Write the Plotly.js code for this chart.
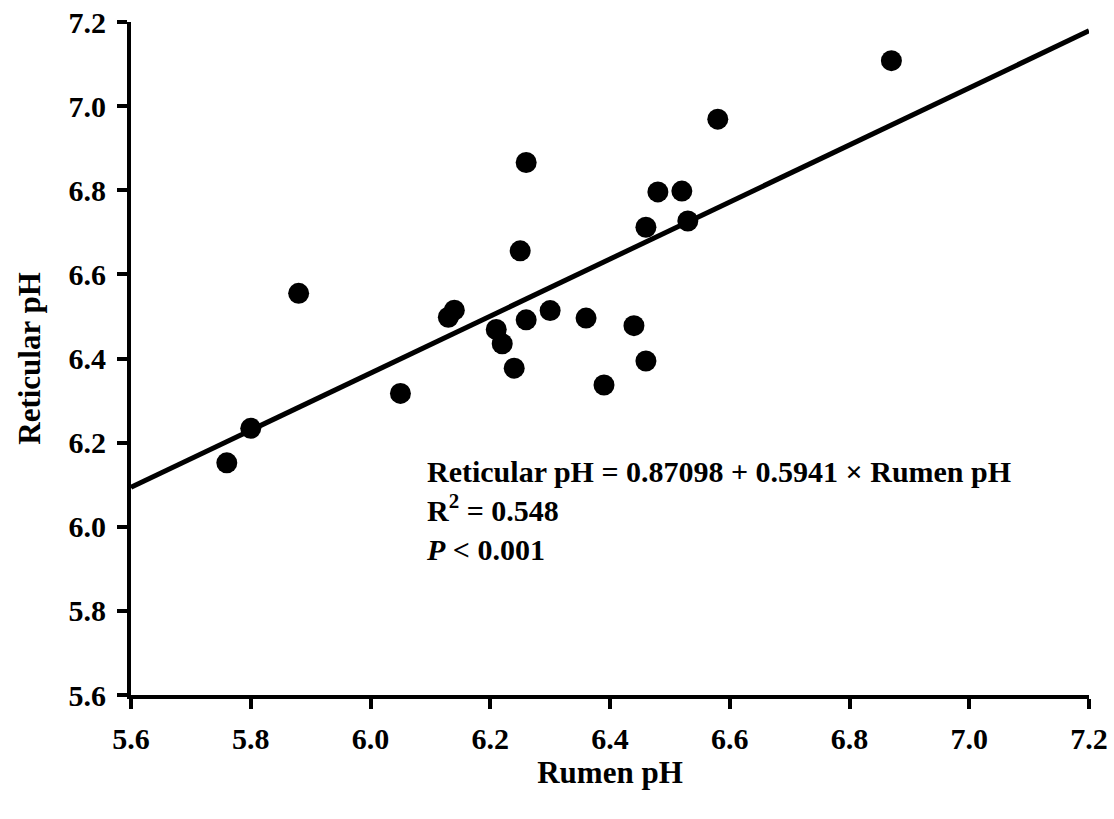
<!DOCTYPE html>
<html>
<head>
<meta charset="utf-8">
<script src="https://cdn.plot.ly/plotly-3.0.1.min.js"></script>
<style>html,body{margin:0;padding:0;background:#fff;}#chart{width:1114px;height:819px;}</style>
</head>
<body>
<div id="chart"></div>
<script>
const rumenPH = [5.76, 5.80, 5.88, 6.05, 6.13, 6.14, 6.21, 6.22, 6.24, 6.25, 6.26, 6.26, 6.30, 6.36, 6.39, 6.44, 6.46, 6.46, 6.48, 6.52, 6.53, 6.58, 6.87];
const reticularPH = [6.152, 6.234, 6.555, 6.317, 6.498, 6.515, 6.469, 6.435, 6.377, 6.656, 6.866, 6.492, 6.514, 6.496, 6.337, 6.478, 6.394, 6.712, 6.796, 6.798, 6.727, 6.969, 7.108];
const fitX = [5.6, 7.2];
const fitY = [6.094, 7.179];
const tickVals = [5.6, 5.8, 6.0, 6.2, 6.4, 6.6, 6.8, 7.0, 7.2];
const xTitle = "Rumen pH";
const yTitle = "Reticular pH";
const eqText = "Reticular pH = 0.87098 + 0.5941 × Rumen pH<br>R<sup>2</sup> = 0.548<br><i>P</i> &lt; 0.001";

const font = {family: "Liberation Serif, Times New Roman, serif", color: "#000"};

const traces = [
  {x: fitX, y: fitY, type: "scatter", mode: "lines", line: {color: "#000", width: 5}, hoverinfo: "skip"},
  {x: rumenPH, y: reticularPH, type: "scatter", mode: "markers", marker: {color: "#000", size: 21}, cliponaxis: false}
];

const axisCommon = {
  range: [5.6, 7.2],
  tickvals: tickVals,
  ticktext: tickVals.map(v => v.toFixed(1)),
  showgrid: false,
  zeroline: false,
  showline: true,
  linecolor: "#000",
  linewidth: 4,
  ticks: "outside",
  ticklen: 10,
  tickwidth: 4,
  tickcolor: "#000",
  tickfont: Object.assign({size: 30, weight: "bold"}, font)
};

const layout = {
  width: 1114, height: 819,
  margin: {l: 131, r: 25, t: 22, b: 124},
  paper_bgcolor: "#fff", plot_bgcolor: "#fff",
  showlegend: false,
  font: font,
  xaxis: Object.assign({}, axisCommon, {
    title: {text: "<b>" + xTitle + "</b>", font: Object.assign({size: 31}, font), standoff: 6},
    ticklabelstandoff: 4
  }),
  yaxis: Object.assign({}, axisCommon, {
    title: {text: "<b>" + yTitle + "</b>", font: Object.assign({size: 31}, font), standoff: 20},
    ticklabelstandoff: 5
  }),
  annotations: [{
    x: 6.09, y: 6.175, xref: "x", yref: "y",
    xanchor: "left", yanchor: "top", align: "left",
    showarrow: false,
    text: "<b>" + eqText + "</b>",
    font: Object.assign({size: 30}, font)
  }]
};

Plotly.newPlot("chart", traces, layout, {displayModeBar: false, staticPlot: true});
</script>
</body>
</html>
